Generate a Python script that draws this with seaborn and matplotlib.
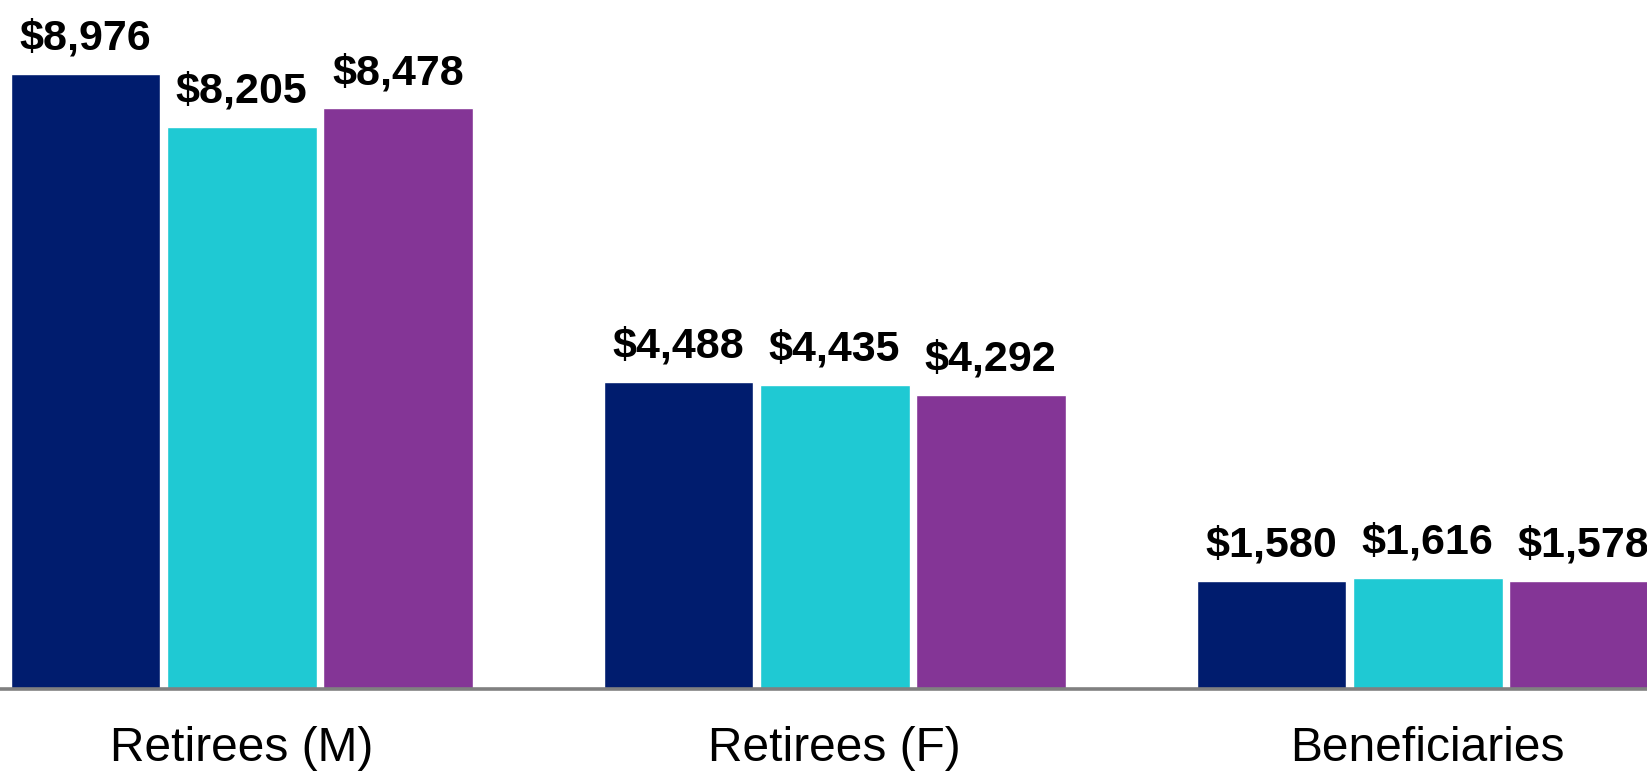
import pandas as pd
import matplotlib.pyplot as plt
import seaborn as sns

categories = ["Retirees (M)", "Retirees (F)", "Beneficiaries"]
series = ["Series 1", "Series 2", "Series 3"]
values_s1 = [8976, 4488, 1580]
values_s2 = [8205, 4435, 1616]
values_s3 = [8478, 4292, 1578]
colors = ["#001C6E", "#1FC9D3", "#843596"]

df = pd.DataFrame({
    "group": categories * 3,
    "series": [s for s in series for _ in categories],
    "value": values_s1 + values_s2 + values_s3,
})

sns.set_style("white")
plt.rcParams["font.family"] = ["Liberation Sans", "DejaVu Sans"]

fig = plt.figure(figsize=(16.47, 7.71), dpi=100)
ax = fig.add_axes([0, 0.1064, 1, 0.8936])

sns.barplot(data=df, x="group", y="value", hue="series", palette=colors,
            width=0.79, gap=0.04, saturation=1, legend=False, ax=ax)

# value labels above bars
for cont in ax.containers:
    for bar in cont:
        h = bar.get_height()
        ax.annotate(f"${h:,.0f}", (bar.get_x() + bar.get_width() / 2, h),
                    xytext=(0, 17.5), textcoords="offset points",
                    ha="center", va="baseline", fontsize=31, fontweight="bold",
                    color="black")

ax.set_xlim(-0.4076, 2.370)
ax.set_ylim(0, 10060)
ax.set_xlabel("")
ax.set_ylabel("")
ax.set_yticks([])
ax.tick_params(axis="x", length=0, pad=27, labelsize=34.5, labelcolor="black")

for side in ["top", "left", "right"]:
    ax.spines[side].set_visible(False)
ax.spines["bottom"].set_color("#808080")
ax.spines["bottom"].set_linewidth(2.6)

fig.savefig("out.png", dpi=100)
plt.close(fig)
